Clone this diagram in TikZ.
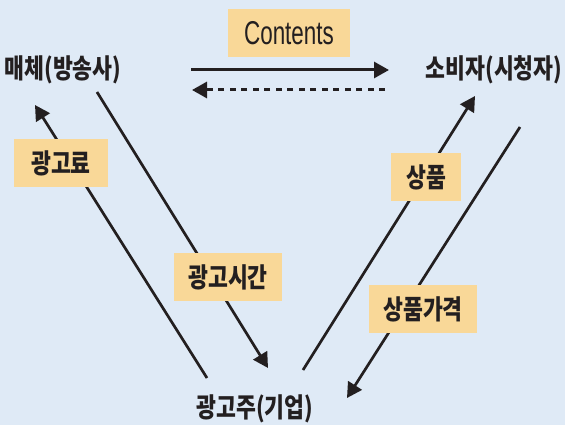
\documentclass[tikz,border=0pt]{standalone}
\usepackage{fontspec}
\setmainfont{Liberation Sans}
\newfontfamily\kr[FakeStretch=0.8]{Noto Sans CJK KR}
\newfontfamily\lat[FakeStretch=0.68]{Liberation Sans}
\usetikzlibrary{arrows.meta}
\definecolor{bgblue}{HTML}{DFEAF6}
\definecolor{tagfill}{HTML}{F9D898}
\definecolor{ink}{HTML}{231F20}
\tikzset{
  party/.style={inner sep=0pt, text=ink, font=\kr\bfseries\fontsize{27}{27}\selectfont},
  tag/.style={fill=tagfill, inner sep=0pt, minimum height=48pt, text=ink, font=\kr\bfseries\fontsize{27}{27}\selectfont},
  flow/.style={draw=ink, line width=2.7pt, -{Triangle[length=15pt,width=16pt]}},
  hflow/.style={draw=ink, line width=3pt, -{Triangle[length=15pt,width=16pt]}},
}
\begin{document}
\begin{tikzpicture}[x=1pt,y=-1pt]
\fill[bgblue] (0,0) rectangle (565,425);
\useasboundingbox (0,0) rectangle (565,425);

% parties
\node[party] (media) at (63,70) {매체(방송사)};
\node[party] (cons) at (494,70) {소비자(시청자)};
\node[party] (adv) at (255,409) {광고주(기업)};

% connector end points
\coordinate (c1s) at (191,70);
\coordinate (c1e) at (389,70);
\coordinate (c2s) at (385,90);
\coordinate (c2e) at (192,90);
\coordinate (feeS) at (207,378);
\coordinate (feeE) at (35,105);
\coordinate (timeS) at (97,92);
\coordinate (timeE) at (268,368);
\coordinate (prodS) at (303,370);
\coordinate (prodE) at (475,96);
\coordinate (priceS) at (520,127);
\coordinate (priceE) at (347,398);

% connectors
\draw[hflow] (c1s) -- (c1e);
\draw[hflow, dash pattern=on 6pt off 5.5pt] (c2s) -- (c2e);
\draw[flow] (feeS) -- (feeE);
\draw[flow] (timeS) -- (timeE);
\draw[flow] (prodS) -- (prodE);
\draw[flow] (priceS) -- (priceE);

% tags
\node[tag, minimum width=122pt, font=\lat\fontsize{33}{33}\selectfont] (contents) at (289,33) {Contents};
\node[tag, minimum width=94pt] (fee) at (61,163) {광고료};
\node[tag, minimum width=108pt] (time) at (228,277) {광고시간};
\node[tag, minimum width=70pt] (prod) at (426,177) {상품};
\node[tag, minimum width=108pt] (price) at (423,309) {상품가격};
\end{tikzpicture}
\end{document}
